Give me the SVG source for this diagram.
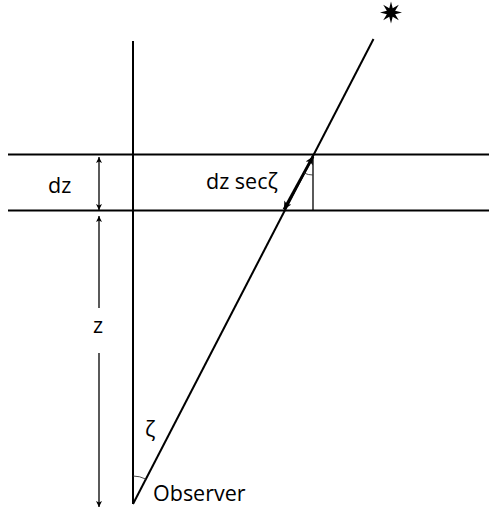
<svg xmlns="http://www.w3.org/2000/svg" width="489" height="510" viewBox="0 0 489 510">
<style>
.main{stroke:#000;stroke-width:2;fill:none}
.thin{stroke:#000;stroke-width:1.3;fill:none}
.arc{stroke:#333;stroke-width:0.9;fill:none}
.lbl{font-family:"Open Sans","Noto Sans",sans-serif;font-size:21.5px;fill:#000}
</style>
<defs>
<marker id="ah" viewBox="0 0 10 10" refX="10" refY="5" markerWidth="9" markerHeight="6" markerUnits="userSpaceOnUse" orient="auto-start-reverse">
<path d="M0,0 L10,5 L0,10 L2.5,5 Z" fill="#000"/>
</marker>
<marker id="ahb" viewBox="0 0 10 10" refX="10" refY="5" markerWidth="14" markerHeight="8" markerUnits="userSpaceOnUse" orient="auto-start-reverse">
<path d="M0,0 L10,5 L0,10 L2.5,5 Z" fill="#000"/>
</marker>
</defs>
<g id="frame">
<line class="main" x1="133" y1="41" x2="133" y2="504"/>
<line class="main" x1="8" y1="154.5" x2="489" y2="154.5"/>
<line class="main" x1="8" y1="210.5" x2="489" y2="210.5"/>
<line class="main" x1="133" y1="504" x2="373.5" y2="39"/>
</g>
<g id="star">
<polygon fill="#000" points="402,12.5 395.16,14.22 398.78,20.28 392.72,16.66 391,23.5 389.28,16.66 383.22,20.28 386.84,14.22 380,12.5 386.84,10.78 383.22,4.72 389.28,8.34 391,1.5 392.72,8.34 398.78,4.72 395.16,10.78"/>
</g>
<g id="connectors">
<line class="thin" x1="99" y1="157" x2="99" y2="210" marker-start="url(#ah)" marker-end="url(#ah)"/>
<line class="thin" x1="99" y1="308" x2="99" y2="216" marker-end="url(#ah)"/>
<line class="thin" x1="99" y1="353" x2="99" y2="507" marker-end="url(#ah)"/>
<line class="thin" x1="313" y1="155" x2="313" y2="210.5"/>
<line stroke="#000" stroke-width="2.8" x1="284" y1="209.5" x2="313" y2="156.5" marker-start="url(#ahb)" marker-end="url(#ahb)"/>
<path class="arc" d="M304,173 A20,20 0 0 0 313,175"/>
<path class="arc" d="M133,476 A28,28 0 0 1 145.8,479.1"/>
</g>
<g id="labels">
<text class="lbl" x="48" y="193">dz</text>
<text class="lbl" x="206" y="188.5">dz secζ</text>
<text class="lbl" x="93" y="333">z</text>
<text class="lbl" x="145" y="437">ζ</text>
<text class="lbl" x="153" y="501">Observer</text>
</g>
</svg>
